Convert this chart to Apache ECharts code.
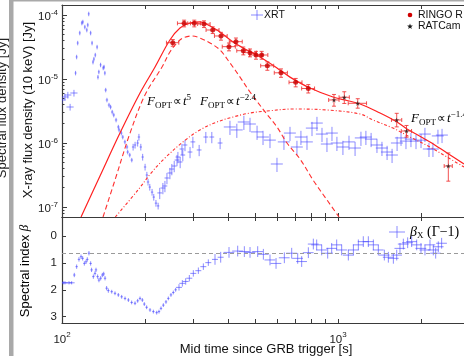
<!DOCTYPE html>
<html>
<head>
<meta charset="utf-8">
<script src="https://cdn.jsdelivr.net/npm/echarts@6/dist/echarts.min.js"></script>
<style>
  html, body { margin: 0; padding: 0; background: #fff; }
  #chart { width: 464px; height: 356px; }
</style>
</head>
<body>
<div id="chart"></div>
<script>
// XRT light curve (10 keV flux density), time in s, flux in Jy
const xrtTime = [
  100, 102.5, 105, 107, 110.5, 112, 113, 114, 116, 118,
  119, 121, 123, 124, 125, 127, 128.5, 129.5, 130.5, 132,
  134, 135, 136, 138, 141, 142, 143, 144, 145.5, 148,
  150, 152, 154, 157, 160, 161, 164, 166, 169, 172,
  173, 176, 179, 181, 184, 188, 190, 193, 196, 200,
  203, 205, 208, 212, 215, 219, 223, 226, 232, 236,
  240, 246, 250, 255, 261, 263, 268, 272, 274, 279,
  291, 298, 314, 332, 349, 374, 406, 430, 456, 480,
  509, 535, 567, 601, 637, 670, 710, 734, 772, 805,
  839, 875, 912, 951, 991, 1042, 1096, 1153, 1211, 1262,
  1318, 1384, 1443, 1506, 1570, 1637, 1692, 1763, 1838, 1917,
  1999, 2065, 2136, 2208, 2302, 2382
];
const xrtFlux = [
  4.70e-6, 5.24e-6, 5.62e-6, 3.65e-6, 6.04e-6, 1.24e-5, 2.21e-5, 3.65e-5, 5.24e-5, 7.50e-5,
  7.78e-5, 6.49e-5, 5.83e-5, 6.98e-5, 1.04e-4, 5.24e-5, 3.65e-5, 1.84e-5, 2.05e-5, 2.37e-5,
  3.16e-5, 1.07e-5, 1.29e-5, 1.66e-5, 1.49e-5, 1.54e-5, 1.24e-5, 6.73e-6, 4.70e-6, 3.92e-6,
  3.65e-6, 3.05e-6, 2.74e-6, 2.29e-6, 1.78e-6, 1.60e-6, 1.43e-6, 1.24e-6, 1.04e-6, 8.66e-7,
  7.23e-7, 6.49e-7, 5.42e-7, 8.66e-7, 9.31e-7, 1.00e-6, 1.24e-6, 8.66e-7, 6.04e-7, 4.22e-7,
  3.16e-7, 2.46e-7, 2.05e-7, 1.71e-7, 1.43e-7, 1.15e-7, 1.04e-7, 1.66e-7, 1.98e-7, 2.13e-7,
  2.84e-7, 3.40e-7, 3.92e-7, 4.37e-7, 5.42e-7, 6.04e-7, 5.05e-7, 8.06e-7, 6.49e-7, 9.31e-7,
  7.23e-7, 1.04e-6, 7.78e-7, 1.24e-6, 1.24e-6, 1.00e-6, 1.78e-6, 1.60e-6, 2.13e-6, 1.98e-6,
  1.49e-6, 1.24e-6, 1.11e-6, 4.70e-7, 1.04e-6, 1.43e-6, 8.66e-7, 1.24e-6, 1.04e-6, 1.71e-6,
  2.05e-6, 1.38e-6, 9.64e-7, 1.43e-6, 1.00e-6, 8.66e-7, 1.04e-6, 8.35e-7, 1.20e-6, 1.24e-6,
  1.15e-6, 9.31e-7, 8.35e-7, 7.23e-7, 6.49e-7, 1.00e-6, 1.20e-6, 1.07e-6, 1.15e-6, 1.07e-6,
  1.11e-6, 1.38e-6, 8.06e-7, 8.06e-7, 1.29e-6, 1.33e-6
];
// half widths, as fractions of the value
const xrtTimeErr = [
  .03, .03, .03, .03, .03, .008, .008, .008, .008, .008,
  .008, .008, .008, .008, .008, .008, .008, .008, .008, .008,
  .008, .008, .008, .008, .008, .008, .008, .01, .01, .01,
  .01, .01, .01, .01, .01, .01, .01, .01, .01, .01,
  .01, .01, .01, .01, .01, .01, .01, .01, .01, .01,
  .01, .01, .01, .01, .01, .01, .01, .02, .02, .02,
  .02, .02, .02, .02, .02, .02, .02, .02, .02, .02,
  .02, .02, .02, .02, .02, .02, .05, .05, .05, .05,
  .05, .05, .05, .05, .05, .05, .05, .05, .05, .05,
  .05, .05, .05, .05, .05, .05, .05, .05, .05, .05,
  .05, .05, .05, .05, .05, .05, .05, .05, .05, .05,
  .05, .05, .05, .05, .05, .05
];
const xrtFluxErr = [
  .12, .12, .12, .12, .12, .08, .08, .08, .08, .08,
  .08, .08, .08, .08, .08, .08, .08, .08, .08, .08,
  .08, .08, .08, .08, .08, .08, .08, .08, .08, .08,
  .08, .08, .08, .08, .08, .08, .08, .08, .08, .08,
  .08, .08, .08, .12, .12, .12, .12, .12, .12, .12,
  .12, .12, .12, .12, .12, .12, .12, .2, .2, .2,
  .2, .2, .2, .2, .2, .2, .2, .2, .2, .2,
  .2, .2, .2, .2, .2, .2, .25, .25, .25, .25,
  .25, .25, .25, .25, .25, .25, .25, .25, .25, .25,
  .25, .25, .25, .25, .25, .25, .25, .25, .25, .25,
  .25, .25, .25, .25, .25, .25, .25, .25, .25, .25,
  .25, .25, .25, .25, .25, .25
];

// RINGO R optical points (time err in s, flux err as fraction)
const ringoTime = [252, 277, 301.5, 327, 351.6, 376.7, 402.7, 426.8, 453.7, 480, 504.5, 529, 554.6, 621.6, 702.5, 780.4];
const ringoFlux = [3.69e-5, 7.41e-5, 7.41e-5, 7.23e-5, 5.83e-5, 4.70e-5, 3.20e-5, 3.83e-5, 2.77e-5, 2.58e-5, 2.37e-5, 2.37e-5, 1.61e-5, 1.25e-5, 8.87e-6, 7.11e-6];
const ringoTimeErr = [13, 15, 16, 17, 19, 20, 22, 23, 24, 26, 27, 28, 30, 34, 38, 42];
const ringoFluxErr = [.12, .12, .12, .12, .12, .14, .14, .14, .14, .14, .14, .14, .15, .15, .15, .15];

// RATCam optical points
const ratTime = [967, 1054, 1179, 1632, 1771, 2510];
const ratFlux = [4.70e-6, 5.18e-6, 4.17e-6, 2.29e-6, 1.54e-6, 4.37e-7];
const ratTimeErr = [42, 45, 90, 70, 76, 85];
const ratFluxUp = [.22, .22, .18, .27, .22, .6];
const ratFluxDown = [.2, .2, .16, .22, .2, .42];

// model curves
const modelTime = [117.2, 137.3, 162.2, 191.7, 217.3, 246, 267.6, 291, 316, 343.8, 373.6, 416.6, 467.8, 521.8, 601, 670, 791.4, 959, 1202, 1420, 1636, 1778, 2154, 2483, 2860];
const modelFlux = [6.98e-8, 3.05e-7, 1.43e-6, 6.04e-6, 1.54e-5, 4.07e-5, 6.26e-5, 7.50e-5, 7.78e-5, 6.73e-5, 5.42e-5, 3.79e-5, 2.84e-5, 2.21e-5, 1.49e-5, 1.07e-5, 7.23e-6, 5.24e-6, 4.07e-6, 2.94e-6, 2.13e-6, 1.66e-6, 1.04e-6, 6.98e-7, 4.70e-7];
const rsTime = [140.8, 155.6, 176.4, 199.8, 230.3, 246, 261, 274.4, 295.8, 316, 343.8, 373.6, 406.2, 441.6, 480, 548.3, 601, 653.3, 728.3, 812, 912, 1008];
const rsFlux = [6.98e-8, 2.64e-7, 1.43e-6, 5.62e-6, 1.54e-5, 2.64e-5, 3.65e-5, 4.37e-5, 4.70e-5, 4.37e-5, 3.65e-5, 2.84e-5, 1.78e-5, 1.07e-5, 6.27e-6, 2.94e-6, 1.78e-6, 1.00e-6, 5.62e-7, 2.64e-7, 1.29e-7, 6.98e-8];
const fsTime = [156, 188.6, 211.8, 236.1, 274.4, 316, 364.5, 416.6, 480, 553, 687, 912, 1202, 1339, 1582, 1824, 2154, 2483, 2860];
const fsFlux = [6.98e-8, 1.85e-7, 3.52e-7, 5.83e-7, 1.04e-6, 1.60e-6, 2.13e-6, 2.55e-6, 2.94e-6, 3.16e-6, 3.40e-6, 3.28e-6, 2.84e-6, 2.29e-6, 1.71e-6, 1.24e-6, 8.66e-7, 6.04e-7, 4.22e-7];

// X-ray spectral index
const betaTime = [
  101, 102.5, 106, 108.4, 110.8, 113, 115.2, 117.2, 118.8, 120.5,
  122.2, 123.5, 125.2, 127, 128, 129.9, 131.7, 132.8, 134.6, 136.1,
  138.1, 140, 141.6, 143.2, 145.1, 147.2, 151.4, 155.6, 160, 164.5,
  169.2, 174, 178.8, 183.9, 188, 191.7, 195.5, 198.7, 202.6, 208.4,
  214.3, 220.3, 224.6, 228.4, 232.9, 238.1, 242.8, 248.2, 253.1, 258.1,
  265.4, 272.9, 280.6, 289.3, 299.1, 311.9, 325.2, 339, 358.4, 375.8,
  402.8, 433.1, 457.8, 480, 511.7, 536.5, 567, 596.3, 639.2, 679.5,
  714.4, 738.6, 780.8, 814, 837, 872.7, 917.6, 948.7, 989, 1031,
  1090, 1137, 1185, 1235, 1288, 1343, 1400, 1472, 1522, 1587,
  1632, 1677, 1725, 1788, 1849, 1928, 1998, 2066, 2154, 2215,
  2259, 2309, 2374
];
const beta = [
  1.74, 1.74, 1.74, 1.74, 1.45, 1.14, 0.87, 0.77, 0.83, 1.02,
  0.96, 0.87, 0.64, 1.02, 1.26, 1.51, 1.39, 1.26, 1.51, 1.64,
  1.57, 1.45, 1.41, 1.57, 1.94, 2.03, 2.07, 2.13, 2.19, 2.26,
  2.32, 2.38, 2.47, 2.50, 2.41, 2.32, 2.38, 2.53, 2.65, 2.75,
  2.81, 2.85, 2.81, 2.69, 2.57, 2.45, 2.32, 2.19, 2.10, 2.00,
  1.91, 1.76, 1.69, 1.57, 1.39, 1.29, 1.14, 0.99, 0.87, 0.79,
  0.61, 0.56, 0.58, 0.61, 0.58, 0.68, 0.89, 1.02, 0.81, 0.64,
  0.83, 0.95, 0.62, 0.30, 0.33, 0.52, 0.64, 0.46, 0.33, 0.52,
  0.71, 0.52, 0.33, 0.21, 0.21, 0.33, 0.52, 0.71, 0.79, 0.83,
  0.71, 0.46, 0.30, 0.25, 0.21, 0.33, 0.46, 0.52, 0.33, 0.52,
  0.64, 0.40, 0.27
];
const betaTimeErr = [
  .025, .025, .025, .025, .01, .01, .01, .01, .01, .01,
  .01, .01, .01, .01, .01, .01, .01, .01, .01, .01,
  .01, .01, .01, .01, .01, .01, .01, .01, .01, .01,
  .01, .01, .01, .01, .01, .01, .01, .01, .01, .01,
  .01, .01, .01, .01, .01, .01, .01, .01, .01, .01,
  .025, .025, .025, .025, .025, .025, .025, .025, .025, .025,
  .045, .045, .045, .045, .045, .045, .045, .045, .045, .045,
  .045, .045, .045, .045, .045, .045, .045, .045, .045, .045,
  .045, .045, .045, .045, .045, .045, .045, .045, .045, .045,
  .045, .045, .045, .045, .045, .045, .045, .045, .045, .045,
  .045, .045, .045
];
const betaErr = [
  .06, .06, .06, .06, .08, .08, .08, .08, .08, .08,
  .08, .08, .08, .08, .08, .08, .08, .08, .08, .08,
  .08, .08, .08, .08, .08, .08, .07, .07, .07, .07,
  .07, .07, .07, .07, .07, .07, .07, .07, .07, .07,
  .07, .07, .07, .07, .07, .07, .07, .07, .07, .07,
  .12, .12, .12, .12, .12, .12, .12, .12, .2, .2,
  .2, .2, .2, .2, .2, .2, .2, .2, .2, .2,
  .2, .2, .2, .2, .2, .2, .2, .2, .2, .2,
  .2, .2, .2, .2, .2, .2, .2, .2, .2, .2,
  .2, .2, .2, .2, .2, .2, .2, .2, .2, .2,
  .2, .2, .2
];
const betaRef = 0.65;

// ticks
const fluxExp = [-7, -6, -5, -4];
const timeExp = [2, 3];
const betaTicks = [0, 1, 2, 3];
const minorTimes = [200, 300, 400, 500, 600, 700, 800, 900, 2000];
const minorFactors = [2, 3, 4, 5, 6, 7, 8, 9];

const lg = Math.log10;
// the plot continues past the right edge of the picture; axis stops at the edge
const X_MIN = 2, X_MAX = 3.4565;
const Y_MIN = -7.156, Y_MAX = -3.844;
const B_MIN = -0.706, B_MAX = 3.234;
const SANS = "'Liberation Sans', Arial, sans-serif";
const SERIF = "'Liberation Serif', 'Times New Roman', serif";
const AX = '#3a3a3a';
const XRT_COL = 'rgba(70,70,255,0.62)';

const xTickVals = timeExp.concat(minorTimes.map(lg));
const yMinorVals = [];
[-8, -7, -6, -5, -4].forEach(d => minorFactors.forEach(k => {
  const v = d + lg(k);
  if (v > Y_MIN && v < Y_MAX) yMinorVals.push(v);
}));

const xrtRows = xrtTime.map((t, i) => [lg(t), lg(xrtFlux[i]),
  lg(t * (1 - xrtTimeErr[i])), lg(t * (1 + xrtTimeErr[i])),
  lg(xrtFlux[i] * (1 - xrtFluxErr[i])), lg(xrtFlux[i] * (1 + xrtFluxErr[i]))]);
const ringoRows = ringoTime.map((t, i) => [lg(t), lg(ringoFlux[i]),
  lg(t - ringoTimeErr[i]), lg(t + ringoTimeErr[i]),
  lg(ringoFlux[i] * (1 - ringoFluxErr[i])), lg(ringoFlux[i] * (1 + ringoFluxErr[i]))]);
const ratRows = ratTime.map((t, i) => [lg(t), lg(ratFlux[i]),
  lg(t - ratTimeErr[i]), lg(t + ratTimeErr[i]),
  lg(ratFlux[i] * (1 - ratFluxDown[i])), lg(ratFlux[i] * (1 + ratFluxUp[i]))]);
const betaRows = betaTime.map((t, i) => [lg(t), beta[i],
  lg(t * (1 - betaTimeErr[i])), lg(t * (1 + betaTimeErr[i])),
  beta[i] - betaErr[i], beta[i] + betaErr[i]]);

function errBars(color, cap) {
  return function (params, api) {
    const c = api.coord([api.value(0), api.value(1)]);
    const l = api.coord([api.value(2), api.value(1)]);
    const r = api.coord([api.value(3), api.value(1)]);
    const lo = api.coord([api.value(0), api.value(4)]);
    const hi = api.coord([api.value(0), api.value(5)]);
    const style = { stroke: color, lineWidth: 1, fill: null };
    const kids = [
      { type: 'line', shape: { x1: l[0], y1: c[1], x2: r[0], y2: c[1] }, style },
      { type: 'line', shape: { x1: c[0], y1: lo[1], x2: c[0], y2: hi[1] }, style }
    ];
    if (cap) {
      kids.push({ type: 'line', shape: { x1: c[0] - cap, y1: lo[1], x2: c[0] + cap, y2: lo[1] }, style });
      kids.push({ type: 'line', shape: { x1: c[0] - cap, y1: hi[1], x2: c[0] + cap, y2: hi[1] }, style });
      kids.push({ type: 'line', shape: { x1: l[0], y1: c[1] - cap, x2: l[0], y2: c[1] + cap }, style });
      kids.push({ type: 'line', shape: { x1: r[0], y1: c[1] - cap, x2: r[0], y2: c[1] + cap }, style });
    }
    return { type: 'group', children: kids };
  };
}

const powRich = {
  b: { fontSize: 11.5, fontFamily: SANS, color: '#222' },
  s: { fontSize: 8, fontFamily: SANS, color: '#222', padding: [0, 0, 9, 0] }
};

function xAxis(grid, pos, withLabels) {
  return {
    type: 'value', gridIndex: grid, position: pos, min: X_MIN, max: X_MAX,
    axisLine: { show: true, onZero: false, lineStyle: { color: AX, width: 1.2 } },
    axisTick: { show: true, inside: true, length: 4, customValues: xTickVals, lineStyle: { color: AX } },
    axisLabel: withLabels ? {
      customValues: timeExp, margin: 8,
      formatter: v => '{b|10}{s|' + Math.round(v) + '}',
      rich: powRich
    } : { show: false },
    splitLine: { show: false }
  };
}

// small 5-point star for the RATCam legend entry
function starPoints(cx, cy, ro, ri) {
  const pts = [];
  for (let k = 0; k < 10; k++) {
    const a = -Math.PI / 2 + k * Math.PI / 5;
    const rr = k % 2 ? ri : ro;
    pts.push([cx + rr * Math.cos(a), cy + rr * Math.sin(a)]);
  }
  return pts;
}

const chart = echarts.init(document.getElementById('chart'), null, { renderer: 'canvas' });

const annRich = {
  F: { fontSize: 13, fontFamily: SERIF, fontStyle: 'italic', color: '#111' },
  o: { fontSize: 9, fontFamily: SERIF, color: '#111', padding: [7, 0, 0, 0] },
  p: { fontSize: 12, fontFamily: SERIF, color: '#111', padding: [0, 1, 0, 1] },
  t: { fontSize: 13, fontFamily: SERIF, fontStyle: 'italic', color: '#111' },
  e: { fontSize: 9, fontFamily: SERIF, color: '#111', padding: [0, 0, 9, 0] }
};
function ann(x, y, expo) {
  return {
    type: 'text', x, y, z: 10,
    style: { text: '{F|F}{o|OPT}{p|∝}{t|t}{e|' + expo + '}', rich: annRich, verticalAlign: 'middle' }
  };
}
const LEG_FONT = '10.5px ' + SANS;

const option = {
  animation: false,
  backgroundColor: '#fff',
  grid: [
    { left: 62, top: 5, width: 402, height: 212, outerBoundsMode: 'none', containLabel: false },
    { left: 62, top: 217, width: 402, height: 106, outerBoundsMode: 'none', containLabel: false }
  ],
  xAxis: [
    xAxis(0, 'bottom', false),
    xAxis(0, 'top', false),
    xAxis(1, 'bottom', true),
    xAxis(1, 'top', false)
  ],
  yAxis: [
    {
      type: 'value', gridIndex: 0, position: 'left', min: Y_MIN, max: Y_MAX,
      axisLine: { show: true, lineStyle: { color: AX, width: 1.2 } },
      axisTick: { show: true, inside: true, length: 5, customValues: fluxExp, lineStyle: { color: AX } },
      axisLabel: {
        customValues: fluxExp, margin: 4, padding: [4, 0, 0, 0],
        formatter: v => '{b|10}{s|' + Math.round(v) + '}',
        rich: powRich
      },
      splitLine: { show: false }
    },
    {
      type: 'value', gridIndex: 0, position: 'left', min: Y_MIN, max: Y_MAX,
      axisLine: { show: false },
      axisTick: { show: true, inside: true, length: 2.5, customValues: yMinorVals, lineStyle: { color: AX } },
      axisLabel: { show: false },
      splitLine: { show: false }
    },
    {
      type: 'value', gridIndex: 1, position: 'left', inverse: true, min: B_MIN, max: B_MAX,
      axisLine: { show: true, lineStyle: { color: AX, width: 1.2 } },
      axisTick: { show: true, inside: true, length: 4, customValues: betaTicks, lineStyle: { color: AX } },
      axisLabel: { customValues: betaTicks, margin: 5, fontSize: 11.5, fontFamily: SANS, color: '#222' },
      splitLine: { show: false }
    }
  ],
  series: [
    {
      type: 'custom', xAxisIndex: 0, yAxisIndex: 0, clip: true, z: 2,
      renderItem: errBars(XRT_COL, 0), data: xrtRows
    },
    {
      type: 'line', xAxisIndex: 0, yAxisIndex: 0, showSymbol: false, smooth: 0.35, z: 3,
      lineStyle: { color: '#ff3030', width: 1.1, type: [3, 2, 1, 2] },
      data: fsTime.map((t, i) => [lg(t), lg(fsFlux[i])])
    },
    {
      type: 'line', xAxisIndex: 0, yAxisIndex: 0, showSymbol: false, smooth: 0.35, z: 3,
      lineStyle: { color: '#ff3030', width: 1.1, type: [5, 3] },
      data: rsTime.map((t, i) => [lg(t), lg(rsFlux[i])])
    },
    {
      type: 'line', xAxisIndex: 0, yAxisIndex: 0, showSymbol: false, smooth: 0.35, z: 3,
      lineStyle: { color: '#ff2020', width: 1.2 },
      data: modelTime.map((t, i) => [lg(t), lg(modelFlux[i])])
    },
    {
      type: 'custom', xAxisIndex: 0, yAxisIndex: 0, clip: true, z: 4,
      renderItem: errBars('rgba(240,50,50,0.85)', 2), data: ringoRows
    },
    {
      type: 'scatter', xAxisIndex: 0, yAxisIndex: 0, symbol: 'circle', symbolSize: 5, z: 5,
      itemStyle: { color: '#c80000' }, data: ringoRows.map(r => [r[0], r[1]])
    },
    {
      type: 'custom', xAxisIndex: 0, yAxisIndex: 0, clip: true, z: 4,
      renderItem: errBars('rgba(240,50,50,0.85)', 2), data: ratRows
    },
    {
      type: 'scatter', xAxisIndex: 0, yAxisIndex: 0, z: 5,
      symbol: 'path://M50,0 L61,35 L98,35 L68,57 L79,91 L50,70 L21,91 L32,57 L2,35 L39,35 Z',
      symbolSize: 5, itemStyle: { color: '#1a1a1a' }, data: ratRows.map(r => [r[0], r[1]])
    },
    {
      type: 'custom', xAxisIndex: 2, yAxisIndex: 2, clip: true, z: 2,
      renderItem: errBars(XRT_COL, 0), data: betaRows,
      markLine: {
        silent: true, symbol: 'none', label: { show: false },
        lineStyle: { color: '#9a9a9a', width: 1, type: [4, 3] },
        data: [{ yAxis: betaRef }]
      }
    }
  ],
  graphic: [
    { type: 'rect', shape: { x: 9, y: 0, width: 4.5, height: 356 }, style: { fill: '#a9a9a9' } },
    { type: 'rect', shape: { x: 13, y: 0, width: 451, height: 1.5 }, style: { fill: '#a9a9a9' } },
    {
      type: 'text', x: 2, y: 38, rotation: Math.PI / 2,
      style: { text: 'Spectral flux density [Jy]', font: '13px ' + SANS, fill: '#222', align: 'right', verticalAlign: 'middle' }
    },
    {
      type: 'text', x: 28, y: 110, rotation: Math.PI / 2,
      style: { text: 'X-ray flux density (10 keV) [Jy]', font: '13px ' + SANS, fill: '#111', align: 'center', verticalAlign: 'middle' }
    },
    {
      type: 'text', x: 25, y: 271, rotation: Math.PI / 2,
      style: {
        text: '{a|Spectral index }{b|β}', align: 'center', verticalAlign: 'middle',
        rich: {
          a: { fontSize: 13, fontFamily: SANS, color: '#111' },
          b: { fontSize: 13, fontFamily: SERIF, fontStyle: 'italic', color: '#111' }
        }
      }
    },
    {
      type: 'text', x: 266, y: 349,
      style: { text: 'Mid time since GRB trigger [s]', font: '13px ' + SANS, fill: '#111', align: 'center', verticalAlign: 'middle' }
    },
    // legend: XRT
    { type: 'line', shape: { x1: 251, y1: 15, x2: 263, y2: 15 }, style: { stroke: XRT_COL, lineWidth: 1 } },
    { type: 'line', shape: { x1: 257, y1: 10, x2: 257, y2: 20 }, style: { stroke: XRT_COL, lineWidth: 1 } },
    { type: 'text', x: 264, y: 15, style: { text: 'XRT', font: LEG_FONT, fill: '#111', verticalAlign: 'middle' } },
    // legend: RINGO R / RATCam
    { type: 'circle', shape: { cx: 410, cy: 15, r: 2.3 }, style: { fill: '#d00000' } },
    { type: 'text', x: 418, y: 15, style: { text: 'RINGO R', font: LEG_FONT, fill: '#111', verticalAlign: 'middle' } },
    { type: 'polygon', shape: { points: starPoints(410, 26.5, 3, 1.3) }, style: { fill: '#1a1a1a' } },
    { type: 'text', x: 418, y: 26, style: { text: 'RATCam', font: LEG_FONT, fill: '#111', verticalAlign: 'middle' } },
    // legend: beta
    { type: 'line', shape: { x1: 389, y1: 232, x2: 405, y2: 232 }, style: { stroke: XRT_COL, lineWidth: 1 } },
    { type: 'line', shape: { x1: 397, y1: 226, x2: 397, y2: 238 }, style: { stroke: XRT_COL, lineWidth: 1 } },
    {
      type: 'text', x: 410, y: 232,
      style: {
        text: '{b|β}{x|X}{n| (Γ−1)}', verticalAlign: 'middle',
        rich: {
          b: { fontSize: 14, fontFamily: SERIF, fontStyle: 'italic', color: '#111' },
          x: { fontSize: 9, fontFamily: SERIF, color: '#111', padding: [7, 0, 0, 0] },
          n: { fontSize: 14, fontFamily: SERIF, color: '#111' }
        }
      }
    },
    ann(147, 102, '5'),
    ann(200, 102, '−2.4'),
    ann(411, 119, '−1.4')
  ]
};

chart.setOption(option);
</script>
</body>
</html>
